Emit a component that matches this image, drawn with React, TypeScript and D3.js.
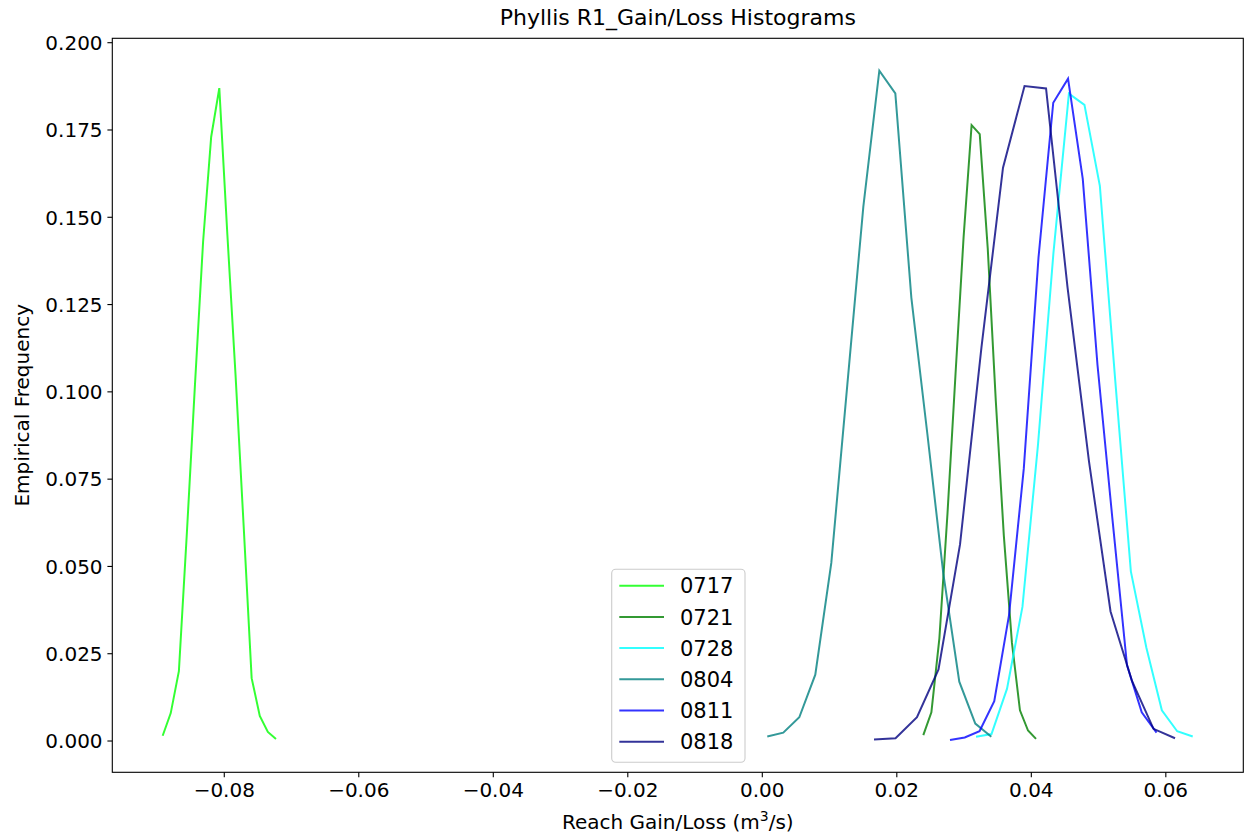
import React from "react";
import * as d3 from "d3";

const seriesNames = ["0717", "0721", "0728", "0804", "0811", "0818"];
const seriesColors = ["#00ff00", "#008000", "#00ffff", "#008080", "#0000ff", "#000080"];

const x0717 = [-0.08916, -0.08796, -0.08675, -0.08555, -0.08436, -0.08315, -0.08195, -0.08074, -0.07954, -0.07833, -0.07713, -0.07593, -0.07472, -0.07352, -0.07231];
const y0717 = [0.0015, 0.008, 0.02, 0.06, 0.102, 0.143, 0.173, 0.187, 0.145, 0.105, 0.062, 0.018, 0.0072, 0.0026, 0.0006];

const x0721 = [0.02394, 0.02514, 0.02633, 0.02754, 0.02873, 0.02993, 0.03112, 0.03233, 0.03352, 0.03472, 0.03591, 0.03712, 0.03831, 0.03951, 0.0407];
const y0721 = [0.0017, 0.0082, 0.0294, 0.0653, 0.1051, 0.1443, 0.1764, 0.1738, 0.1411, 0.0974, 0.0589, 0.0281, 0.0088, 0.003, 0.0006];

const x0728 = [0.03178, 0.03408, 0.03639, 0.03868, 0.04098, 0.04329, 0.04559, 0.0479, 0.05019, 0.05249, 0.0548, 0.0571, 0.05941, 0.06169, 0.064];
const y0728 = [0.0012, 0.002, 0.015, 0.0384, 0.0846, 0.1398, 0.1854, 0.1822, 0.159, 0.103, 0.0486, 0.0268, 0.0088, 0.0028, 0.0013];

const x0804 = [0.00074, 0.00312, 0.0055, 0.00788, 0.01026, 0.01264, 0.01502, 0.0174, 0.01978, 0.02216, 0.02454, 0.02691, 0.02929, 0.03167, 0.03405];
const y0804 = [0.0013, 0.0024, 0.0068, 0.019, 0.051, 0.102, 0.153, 0.192, 0.1855, 0.127, 0.088, 0.048, 0.017, 0.005, 0.0012];

const x0811 = [0.02791, 0.0301, 0.0323, 0.03449, 0.03668, 0.03888, 0.04107, 0.04326, 0.04546, 0.04765, 0.04984, 0.05204, 0.05423, 0.05642, 0.05862];
const y0811 = [0.0003, 0.001, 0.0028, 0.0114, 0.036, 0.078, 0.1385, 0.1828, 0.1897, 0.161, 0.1077, 0.064, 0.0217, 0.0082, 0.0024];

const x0818 = [0.01661, 0.01981, 0.023, 0.0262, 0.0294, 0.03259, 0.03579, 0.03899, 0.04219, 0.04538, 0.04858, 0.05178, 0.05497, 0.05817, 0.06137];
const y0818 = [0.0004, 0.0008, 0.0068, 0.0205, 0.0563, 0.1128, 0.1642, 0.1876, 0.1869, 0.13, 0.08, 0.0371, 0.0172, 0.0035, 0.0008];

const xTicks = [-0.08, -0.06, -0.04, -0.02, 0.0, 0.02, 0.04, 0.06];
const yTicks = [0, 0.025, 0.05, 0.075, 0.1, 0.125, 0.15, 0.175, 0.2];

const titleText = "Phyllis R1_Gain/Loss Histograms";
const yLabelText = "Empirical Frequency";

const W = 1251;
const H = 838;
const L = 112.3, R = 1243.3, T = 38.3, B = 772.3;
const FONT = "DejaVu Sans, sans-serif";

export default function App() {
  const x = d3.scaleLinear().domain([-0.09665, 0.07152]).range([L, R]);
  const y = d3.scaleLinear().domain([-0.00896, 0.20126]).range([B, T]);
  const xs = [x0717, x0721, x0728, x0804, x0811, x0818];
  const ys = [y0717, y0721, y0728, y0804, y0811, y0818];
  const line = d3.line<[number, number]>().x((d) => x(d[0])).y((d) => y(d[1]));
  const fx = d3.format(".2f");
  const fy = d3.format(".3f");

  const legX = 611.7, legY = 569.3, legW = 133.3, legH = 193;
  const rowY = (i: number) => 585.7 + i * 31.2;

  return (
    <svg width={W} height={H} style={{ position: "absolute", left: 0, top: 0, background: "#fff" }} fontFamily={FONT}>
      <rect x={0} y={0} width={W} height={H} fill="#fff" />
      <defs>
        <clipPath id="plotclip">
          <rect x={L} y={T} width={R - L} height={B - T} />
        </clipPath>
      </defs>
      <g clipPath="url(#plotclip)">
        {seriesNames.map((n, i) => (
          <path
            key={n}
            d={line(xs[i].map((v, j) => [v, ys[i][j]] as [number, number])) || ""}
            fill="none"
            stroke={seriesColors[i]}
            strokeOpacity={0.8}
            strokeWidth={2}
            strokeLinejoin="miter"
          />
        ))}
      </g>
      <rect x={L} y={T} width={R - L} height={B - T} fill="none" stroke="#000" strokeWidth={1.1} />
      {xTicks.map((t) => (
        <g key={"x" + t}>
          <line x1={x(t)} x2={x(t)} y1={B} y2={B + 4.9} stroke="#000" strokeWidth={1.1} />
          <text x={x(t)} y={B + 24.5} fontSize={20} textAnchor="middle" fill="#000">
            {fx(t)}
          </text>
        </g>
      ))}
      {yTicks.map((t) => (
        <g key={"y" + t}>
          <line x1={L - 4.9} x2={L} y1={y(t)} y2={y(t)} stroke="#000" strokeWidth={1.1} />
          <text x={L - 9.7} y={y(t) + 7.3} fontSize={20} textAnchor="end" fill="#000">
            {fy(t)}
          </text>
        </g>
      ))}
      <text x={(L + R) / 2} y={24.5} fontSize={22} textAnchor="middle" fill="#000">
        {titleText}
      </text>
      <text x={(L + R) / 2} y={829} fontSize={20} textAnchor="middle" fill="#000">
        Reach Gain/Loss (m<tspan baselineShift="super" fontSize={14}>3</tspan>/s)
      </text>
      <text
        transform={`translate(29,${(T + B) / 2}) rotate(-90)`}
        fontSize={20}
        textAnchor="middle"
        fill="#000"
      >
        {yLabelText}
      </text>
      <rect x={legX} y={legY} width={legW} height={legH} rx={4} ry={4} fill="#fff" fillOpacity={0.8} stroke="#cccccc" strokeWidth={1.1} />
      {seriesNames.map((n, i) => (
        <g key={"leg" + n}>
          <line x1={619.3} x2={664} y1={rowY(i)} y2={rowY(i)} stroke={seriesColors[i]} strokeOpacity={0.8} strokeWidth={2} />
          <text x={680} y={rowY(i) + 7.6} fontSize={21} fill="#000">
            {n}
          </text>
        </g>
      ))}
    </svg>
  );
}
